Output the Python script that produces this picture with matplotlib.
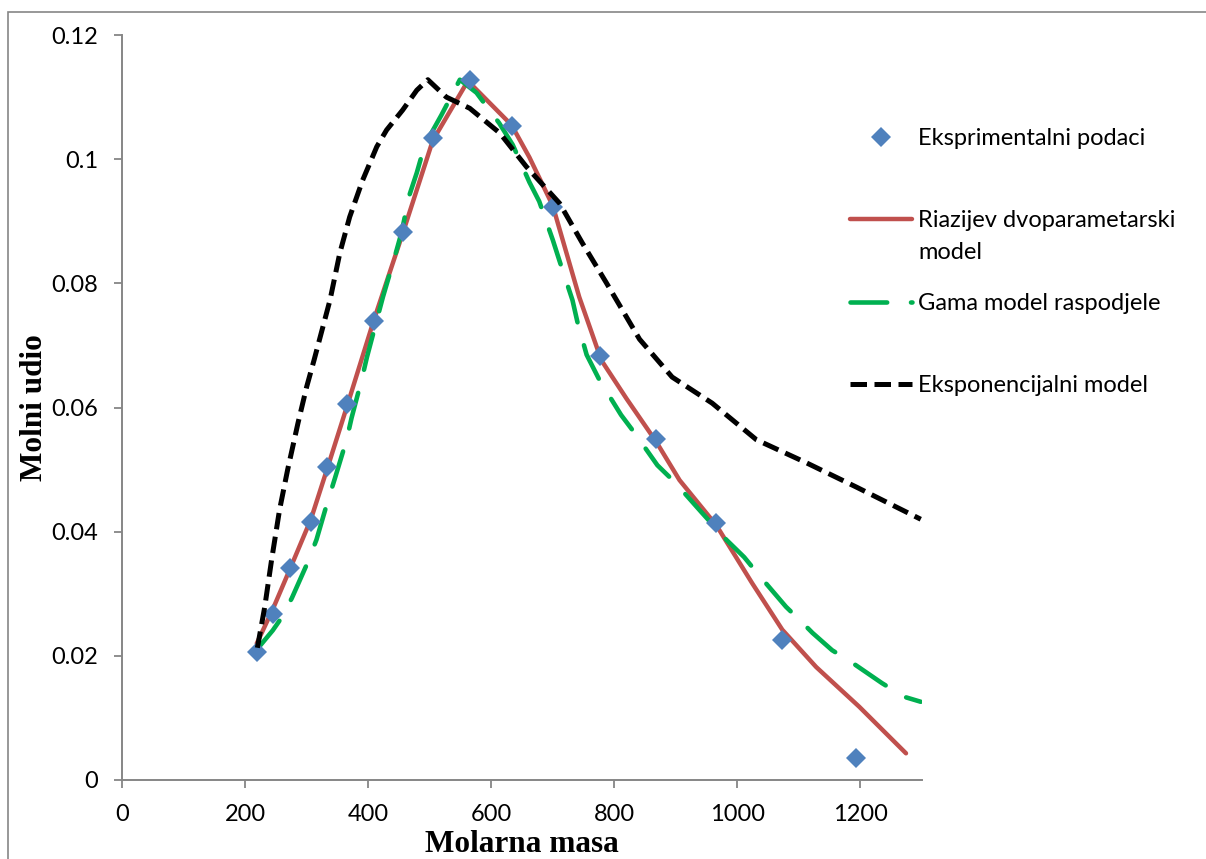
import matplotlib
matplotlib.use("Agg")
import matplotlib.pyplot as plt
from matplotlib.patches import Rectangle

# ---- data ----
exp_x = [219, 245, 273, 307, 333, 365, 409, 456, 505, 565, 633, 700, 777, 867, 966, 1073, 1193]
exp_y = [0.0206, 0.0267, 0.0341, 0.0416, 0.0504, 0.0606, 0.0739, 0.0883, 0.1034, 0.1128,
         0.1053, 0.0923, 0.0683, 0.0549, 0.0414, 0.0226, 0.0035]

riazi_x = [219, 245, 273, 307, 333, 365, 409, 456, 505, 562, 633, 662, 700, 743, 779, 820,
           868, 906, 966, 1024, 1073, 1128, 1198, 1274]
riazi_y = [0.0220, 0.0275, 0.0340, 0.0420, 0.0500, 0.0600, 0.0740, 0.0880, 0.1030, 0.1126,
           0.1055, 0.1003, 0.0925, 0.0778, 0.0676, 0.0614, 0.0545, 0.0483, 0.0410, 0.0317,
           0.0242, 0.0182, 0.0118, 0.0043]

gama_x = [219, 245, 259, 276, 302, 316, 334, 346, 365, 373, 390, 398, 424, 443, 454, 467,
          479, 492, 519, 549, 576, 613, 635, 662, 678, 700, 711, 732, 740, 755, 776, 811,
          833, 870, 898, 941, 982, 1011, 1035, 1079, 1105, 1122, 1154, 1185, 1235, 1271, 1298]
gama_y = [0.0210, 0.0241, 0.0261, 0.0293, 0.0351, 0.0387, 0.0448, 0.0486, 0.0548, 0.0583,
          0.0647, 0.0681, 0.0778, 0.0842, 0.0881, 0.0942, 0.0978, 0.1023, 0.1071, 0.1128,
          0.1107, 0.1058, 0.1023, 0.0963, 0.0932, 0.0870, 0.0836, 0.0773, 0.0738, 0.0685,
          0.0644, 0.0588, 0.0559, 0.0507, 0.0480, 0.0432, 0.0387, 0.0359, 0.0330, 0.0279,
          0.0254, 0.0237, 0.0209, 0.0190, 0.0156, 0.0134, 0.0126]

expo_x = [220, 232, 243, 256, 269, 286, 300, 312, 338, 354, 370, 391, 414, 430, 456, 479,
          497, 527, 565, 614, 657, 711, 748, 787, 841, 894, 959, 1031, 1112, 1193, 1298]
expo_y = [0.0213, 0.0279, 0.0354, 0.0435, 0.0499, 0.0575, 0.0633, 0.0676, 0.0773, 0.0849,
          0.0907, 0.0966, 0.1020, 0.1047, 0.1079, 0.1111, 0.1128, 0.1100, 0.1082, 0.1042,
          0.0988, 0.0929, 0.0865, 0.0801, 0.0710, 0.0649, 0.0607, 0.0548, 0.0511, 0.0472,
          0.0420]

labels = ["Eksprimentalni podaci", "Riazijev dvoparametarski", "Gama model raspodjele",
          "Eksponencijalni model"]
label_wrap = "model"
xlabel = "Molarna masa"
ylabel = "Molni udio"
xticks = [0, 200, 400, 600, 800, 1000, 1200]
yticks = [0, 0.02, 0.04, 0.06, 0.08, 0.1, 0.12]
ytick_labels = ["0", "0.02", "0.04", "0.06", "0.08", "0.1", "0.12"]

# ---- figure ----
W, H = 1206, 859
fig = plt.figure(figsize=(W / 100, H / 100), dpi=100)
ax = fig.add_axes([122 / W, 1 - 780 / H, 800 / W, 745 / H])

FS = 17
tick_font = dict(family="Lato", size=FS)
gray = "#868686"

l_red, = ax.plot(riazi_x, riazi_y, color="#C0504D", lw=3.2, solid_capstyle="round",
                 solid_joinstyle="round", zorder=3)
l_green, = ax.plot(gama_x, gama_y, color="#00B050", lw=3.3, dash_capstyle="round", zorder=3)
l_green.set_dashes([8.0, 5.2])
l_black, = ax.plot(expo_x, expo_y, color="black", lw=3.6, dash_capstyle="butt", zorder=5)
l_black.set_dashes([3.3, 1.5])
sc, = ax.plot(exp_x, exp_y, ls="none", marker="D", ms=10.5, color="#4F81BD",
              markeredgewidth=0, zorder=4)

ax.set_xlim(0, 1300)
ax.set_ylim(0, 0.12)
ax.set_xticks(xticks)
ax.set_xticklabels([str(t) for t in xticks], fontdict=tick_font)
ax.set_yticks(yticks)
ax.set_yticklabels(ytick_labels, fontdict=tick_font)
ax.tick_params(axis="both", direction="out", length=6, width=1.3, color=gray)
ax.tick_params(axis="y", pad=11)
ax.tick_params(axis="x", pad=11)
for s in ["top", "right"]:
    ax.spines[s].set_visible(False)
for s in ["left", "bottom"]:
    ax.spines[s].set_color(gray)
    ax.spines[s].set_linewidth(1.4)

ax.set_xlabel(xlabel, family="Liberation Serif", weight="bold", size=22.5)
ax.set_ylabel(ylabel, family="Liberation Serif", weight="bold", size=22.5)
ax.xaxis.set_label_coords(0.5, -0.0675)
ax.yaxis.set_label_coords(-0.0915, 0.5)

leg = ax.legend([sc, l_red, l_green, l_black], labels, loc="upper left",
                bbox_to_anchor=(850 / W, 1 - 128 / H), bbox_transform=fig.transFigure,
                frameon=False, borderpad=0, borderaxespad=0, handlelength=2.63,
                handletextpad=0.25, labelspacing=2.6, prop=dict(family="Lato", size=FS))

fig.canvas.draw()
bb = leg.get_texts()[1].get_window_extent()
fig.text(bb.x0, bb.y0 - 32, label_wrap, family="Lato", size=FS, ha="left", va="bottom",
         transform=None)

fig.add_artist(Rectangle((8 / W, -0.1), 1.2, 1 - 12 / H + 0.1, transform=fig.transFigure,
                         fill=False, edgecolor=gray, lw=1.2))

fig.savefig("out.png", dpi=100)
